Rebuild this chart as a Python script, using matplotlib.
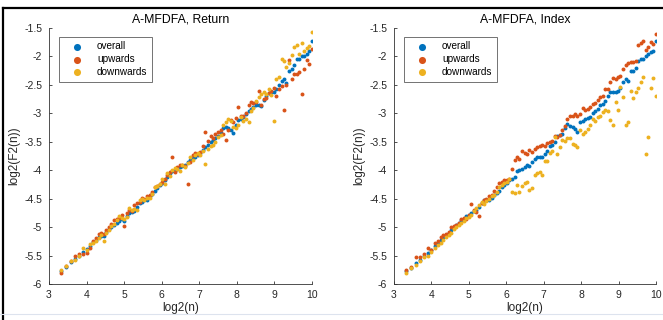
import matplotlib
matplotlib.use("Agg")
import matplotlib.pyplot as plt
from matplotlib.lines import Line2D
from matplotlib.ticker import FormatStrFormatter

# scales, log2(n)
log2_n = [3.32, 3.46, 3.58, 3.70, 3.81, 3.91, 4.00, 4.09, 4.17, 4.25,
          4.32, 4.39, 4.46, 4.53, 4.60, 4.66, 4.73, 4.80, 4.87, 4.93,
          5.00, 5.07, 5.14, 5.20, 5.27, 5.34, 5.41, 5.47, 5.54, 5.61,
          5.68, 5.74, 5.81, 5.88, 5.95, 6.01, 6.08, 6.15, 6.22, 6.28,
          6.35, 6.42, 6.49, 6.55, 6.62, 6.69, 6.76, 6.82, 6.89, 6.96,
          7.03, 7.09, 7.16, 7.23, 7.30, 7.36, 7.43, 7.50, 7.57, 7.63,
          7.70, 7.77, 7.84, 7.90, 7.97, 8.04, 8.11, 8.17, 8.24, 8.31,
          8.38, 8.44, 8.51, 8.58, 8.65, 8.71, 8.78, 8.85, 8.92, 8.98,
          9.05, 9.12, 9.19, 9.25, 9.32, 9.39, 9.46, 9.52, 9.59, 9.66,
          9.73, 9.79, 9.86, 9.93, 10.00]

# A-MFDFA, Return
ret_overall = [-5.78, -5.70, -5.62, -5.56, -5.50, -5.43, -5.39, -5.33, -5.27, -5.22,
               -5.18, -5.16, -5.15, -5.09, -5.04, -5.00, -4.97, -4.93, -4.90, -4.86,
               -4.90, -4.80, -4.76, -4.73, -4.72, -4.64, -4.58, -4.55, -4.53, -4.52,
               -4.45, -4.41, -4.36, -4.32, -4.26, -4.22, -4.18, -4.12, -4.05, -4.02,
               -4.00, -3.97, -3.95, -3.92, -3.90, -3.86, -3.82, -3.78, -3.76, -3.74,
               -3.70, -3.64, -3.60, -3.56, -3.50, -3.47, -3.44, -3.40, -3.35, -3.25,
               -3.24, -3.26, -3.30, -3.34, -3.20, -3.12, -3.10, -3.06, -3.02, -2.96,
               -2.92, -2.89, -2.86, -2.85, -2.87, -2.76, -2.70, -2.65, -2.63, -2.62,
               -2.58, -2.50, -2.44, -2.40, -2.46, -2.25, -2.22, -2.15, -2.04, -2.05,
               -2.00, -2.00, -1.95, -1.91, -1.72]
ret_up = [-5.80, -5.68, -5.60, -5.50, -5.48, -5.48, -5.45, -5.36, -5.25, -5.20,
          -5.12, -5.10, -5.12, -5.05, -5.00, -4.95, -4.88, -4.86, -4.84, -4.78,
          -4.98, -4.76, -4.70, -4.72, -4.62, -4.58, -4.56, -4.48, -4.50, -4.46,
          -4.44, -4.38, -4.30, -4.28, -4.24, -4.20, -4.16, -4.08, -4.03, -3.76,
          -4.04, -3.94, -3.90, -3.90, -3.92, -4.25, -3.86, -3.74, -3.70, -3.72,
          -3.68, -3.58, -3.33, -3.48, -3.40, -3.44, -3.36, -3.32, -3.30, -3.36,
          -3.46, -3.30, -3.12, -3.16, -3.08, -2.88, -3.04, -3.04, -3.00, -2.85,
          -2.80, -2.82, -2.80, -2.61, -2.86, -2.75, -2.73, -2.64, -2.60, -2.56,
          -2.70, -2.58, -2.52, -2.95, -2.50, -2.06, -2.40, -2.30, -2.30, -2.27,
          -2.66, -2.22, -2.07, -2.14, -1.87]
ret_down = [-5.75, -5.68, -5.60, -5.58, -5.50, -5.36, -5.40, -5.30, -5.28, -5.24,
            -5.20, -5.14, -5.25, -5.10, -5.05, -4.98, -4.94, -4.88, -4.80, -4.84,
            -4.86, -4.82, -4.66, -4.70, -4.68, -4.70, -4.52, -4.50, -4.52, -4.48,
            -4.48, -4.42, -4.30, -4.27, -4.25, -4.15, -4.24, -4.05, -4.10, -4.00,
            -3.96, -3.98, -4.02, -3.90, -3.94, -3.88, -3.76, -3.82, -3.74, -3.70,
            -3.74, -3.66, -3.89, -3.62, -3.58, -3.56, -3.50, -3.42, -3.38, -3.20,
            -3.15, -3.10, -3.14, -3.24, -3.26, -3.20, -3.06, -3.13, -3.10, -3.15,
            -2.96, -2.90, -2.78, -2.72, -2.66, -2.62, -2.66, -2.58, -2.68, -3.13,
            -2.40, -2.36, -2.05, -2.08, -2.18, -2.12, -1.98, -1.83, -1.80, -1.95,
            -1.76, -1.90, -1.85, -1.82, -1.57]

# A-MFDFA, Index
idx_overall = [-5.78, -5.72, -5.63, -5.58, -5.50, -5.45, -5.40, -5.34, -5.28, -5.22,
               -5.17, -5.14, -5.10, -5.05, -5.00, -4.96, -4.92, -4.88, -4.85, -4.80,
               -4.78, -4.75, -4.72, -4.70, -4.64, -4.58, -4.53, -4.52, -4.52, -4.48,
               -4.44, -4.40, -4.36, -4.30, -4.26, -4.22, -4.18, -4.15, -4.12, -4.02,
               -4.00, -3.98, -3.94, -3.90, -3.92, -3.86, -3.80, -3.76, -3.76, -3.76,
               -3.72, -3.66, -3.58, -3.56, -3.50, -3.40, -3.38, -3.36, -3.25, -3.18,
               -3.22, -3.24, -3.28, -3.33, -3.16, -3.14, -3.10, -3.08, -3.06, -3.00,
               -2.96, -2.92, -2.86, -2.84, -2.78, -2.70, -2.63, -2.62, -2.62, -2.60,
               -2.56, -2.45, -2.40, -2.44, -2.26, -2.26, -2.20, -2.08, -2.05, -2.04,
               -2.00, -1.95, -1.92, -1.90, -1.72]
idx_up = [-5.75, -5.70, -5.53, -5.53, -5.48, -5.36, -5.40, -5.28, -5.25, -5.18,
          -5.14, -5.12, -5.08, -5.00, -4.98, -4.96, -4.92, -4.85, -4.84, -4.86,
          -4.78, -4.60, -4.70, -4.74, -4.80, -4.58, -4.52, -4.50, -4.46, -4.44,
          -4.36, -4.30, -4.22, -4.20, -4.18, -4.17, -4.16, -3.98, -3.82, -3.76,
          -3.80, -3.66, -3.70, -3.72, -3.64, -3.68, -3.62, -3.60, -3.58, -3.56,
          -3.58, -3.52, -3.50, -3.48, -3.40, -3.42, -3.38, -3.30, -3.22, -3.10,
          -3.04, -3.04, -3.02, -3.05, -3.02, -2.90, -2.94, -2.92, -2.88, -2.84,
          -2.82, -2.76, -2.72, -2.70, -2.57, -2.57, -2.45, -2.38, -2.40, -2.36,
          -2.34, -2.22, -2.15, -2.12, -2.10, -2.10, -2.08, -1.80, -1.76, -1.72,
          -1.88, -1.83, -1.75, -1.78, -1.60]
idx_down = [-5.80, -5.72, -5.67, -5.60, -5.52, -5.50, -5.44, -5.36, -5.32, -5.28,
            -5.22, -5.18, -5.14, -5.10, -5.04, -5.00, -4.96, -4.92, -4.90, -4.84,
            -4.82, -4.78, -4.72, -4.66, -4.62, -4.56, -4.60, -4.54, -4.50, -4.46,
            -4.44, -4.38, -4.30, -4.26, -4.22, -4.20, -4.16, -4.38, -4.40, -4.26,
            -4.38, -4.28, -4.22, -4.20, -4.34, -4.32, -4.08, -4.05, -4.04, -4.08,
            -3.84, -3.83, -3.70, -3.66, -3.42, -3.71, -3.60, -3.46, -3.48, -3.44,
            -3.44, -3.54, -3.56, -3.60, -3.30, -3.36, -3.32, -3.27, -3.20, -3.10,
            -3.14, -3.06, -3.04, -2.98, -2.94, -2.96, -3.12, -3.20, -2.80, -2.94,
            -2.53, -2.72, -3.20, -3.15, -2.60, -2.73, -2.62, -2.56, -2.45, -2.37,
            -3.72, -3.42, -2.56, -2.38, -2.70]

panels = [("A-MFDFA, Return", ret_overall, ret_up, ret_down),
          ("A-MFDFA, Index", idx_overall, idx_up, idx_down)]
labels = ["overall", "upwards", "downwards"]
colors = ["#0072BD", "#D95319", "#EDB120"]

plt.rcParams["font.family"] = ["Liberation Sans", "DejaVu Sans"]
plt.rcParams["axes.unicode_minus"] = False

W, H = 663, 320
fig = plt.figure(figsize=(W / 100, H / 100), dpi=100)
fig.patch.set_facecolor("white")

# axes boxes in pixels: left, right
boxes = [(49, 312), (394, 656)]
top, bottom = 28, 284

axis_col = "#333333"
for (x0, x1), (title, ov, up, dn) in zip(boxes, panels):
    ax = fig.add_axes([x0 / W, 1 - bottom / H, (x1 - x0) / W, (bottom - top) / H])
    for ys, lab, c in zip([ov, up, dn], labels, colors):
        ax.scatter(log2_n, ys, s=8, color=c, linewidths=0, label=lab)
    ax.set_xlim(3, 10)
    ax.set_ylim(-6, -1.5)
    ax.set_xticks(range(3, 11))
    ax.set_yticks([-6, -5.5, -5, -4.5, -4, -3.5, -3, -2.5, -2, -1.5])
    ax.yaxis.set_major_formatter(FormatStrFormatter("%g"))
    ax.spines["top"].set_visible(False)
    ax.spines["right"].set_visible(False)
    for sp in ("left", "bottom"):
        ax.spines[sp].set_color(axis_col)
        ax.spines[sp].set_linewidth(0.6)
    ax.tick_params(direction="in", length=2.5, width=0.6, color=axis_col,
                   labelsize=7.5, labelcolor="#262626", pad=4)
    ax.tick_params(axis="y", pad=5)
    ax.set_title(title, fontsize=8.8, color="#000000", pad=4)
    ax.set_xlabel("log2(n)", fontsize=8.5, color="#262626", labelpad=2)
    ax.set_ylabel("log2(F2(n))", fontsize=8.5, color="#262626", labelpad=3)
    leg = ax.legend(loc="upper left", bbox_to_anchor=(0.038, 0.965), borderaxespad=0,
                    fontsize=7.2, markerscale=1.8, frameon=True, fancybox=False,
                    borderpad=0.45, labelspacing=0.28, handlelength=2.8,
                    handletextpad=0.55, scatterpoints=1)
    leg.get_frame().set_edgecolor("#333333")
    leg.get_frame().set_linewidth(0.6)

# dark frame of the screenshot at top and left
fig.add_artist(Line2D([3 / W, 1], [1 - 8 / H, 1 - 8 / H], color="black", lw=1.6))
fig.add_artist(Line2D([3 / W, 3 / W], [1 - 8 / H, 0], color="black", lw=1.6))
fig.add_artist(Line2D([0, 1], [1 - 314 / H, 1 - 314 / H], color="#dde3ee", lw=0.8))

fig.savefig("out.png", dpi=100)
